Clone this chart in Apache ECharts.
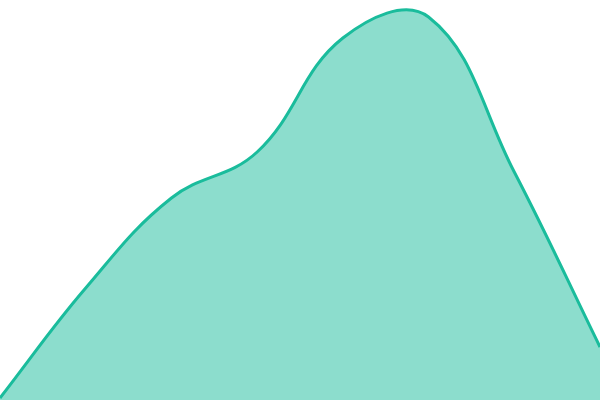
<!DOCTYPE html>
<html lang="en">
<head>
	<meta charset="UTF-8">
	<title>Area</title>
	<style>
		html, body { margin: 0; padding: 0; background: #fff; }
		#container { width: 600px; height: 400px; }
	</style>
</head>
<body>
	<div id="container"></div>
	<script src="https://cdn.jsdelivr.net/npm/echarts@6/dist/echarts.min.js"></script>
	<script>
		var categories = ['1', '2', '3', '4', '5', '6', '7', '8'];
		var values = [2, 112, 202, 248, 362, 383, 228, 53];

		var tension = 0.4;

		// cardinal spline control points (same idea as a tension 0.4 curve)
		function controlPoints(pts) {
			var cps = [];
			for (var i = 0; i < pts.length; i++) {
				var cur = pts[i];
				var prev = pts[i - 1] || cur;
				var next = pts[i + 1] || cur;
				var d01 = Math.hypot(cur[0] - prev[0], cur[1] - prev[1]);
				var d12 = Math.hypot(next[0] - cur[0], next[1] - cur[1]);
				var s01 = d01 / (d01 + d12) || 0;
				var s12 = d12 / (d01 + d12) || 0;
				var fa = tension * s01, fb = tension * s12;
				var vx = next[0] - prev[0], vy = next[1] - prev[1];
				cps.push({
					prev: [cur[0] - fa * vx, cur[1] - fa * vy],
					next: [cur[0] + fb * vx, cur[1] + fb * vy]
				});
			}
			return cps;
		}

		function renderArea(params, api) {
			if (params.dataIndex !== 0) return;
			var pts = values.map(function(v, i) { return api.coord([i, v]); });
			var cps = controlPoints(pts);
			var d = 'M' + pts[0][0] + ',' + pts[0][1];
			for (var i = 1; i < pts.length; i++) {
				var a = cps[i - 1].next, b = cps[i].prev;
				d += ' C' + a[0] + ',' + a[1] + ' ' + b[0] + ',' + b[1] + ' ' + pts[i][0] + ',' + pts[i][1];
			}
			var base = api.coord([0, 0])[1];
			var last = pts[pts.length - 1];
			var area = d + ' L' + last[0] + ',' + base + ' L' + pts[0][0] + ',' + base + ' Z';
			return {
				type: 'group',
				children: [{
					type: 'path',
					shape: { pathData: area },
					style: { fill: 'rgba(26,188,156,0.5)' }
				}, {
					type: 'path',
					shape: { pathData: d },
					style: { fill: 'none', stroke: '#1abc9c', lineWidth: 3 }
				}]
			};
		}

		var myChart = echarts.init(document.getElementById('container'));

		var option = {
			animation: false,
			grid: { top: 0, bottom: 0, left: 0, right: 0 },
			xAxis: {
				type: 'category',
				boundaryGap: false,
				show: false,
				data: categories
			},
			yAxis: {
				type: 'value',
				show: false,
				min: 0,
				max: 400
			},
			series: [{
				type: 'custom',
				coordinateSystem: 'cartesian2d',
				renderItem: renderArea,
				encode: { x: 0, y: 1 },
				data: values.map(function(v, i) { return [i, v]; })
			}]
		};

		myChart.setOption(option);
	</script>
</body>
</html>
